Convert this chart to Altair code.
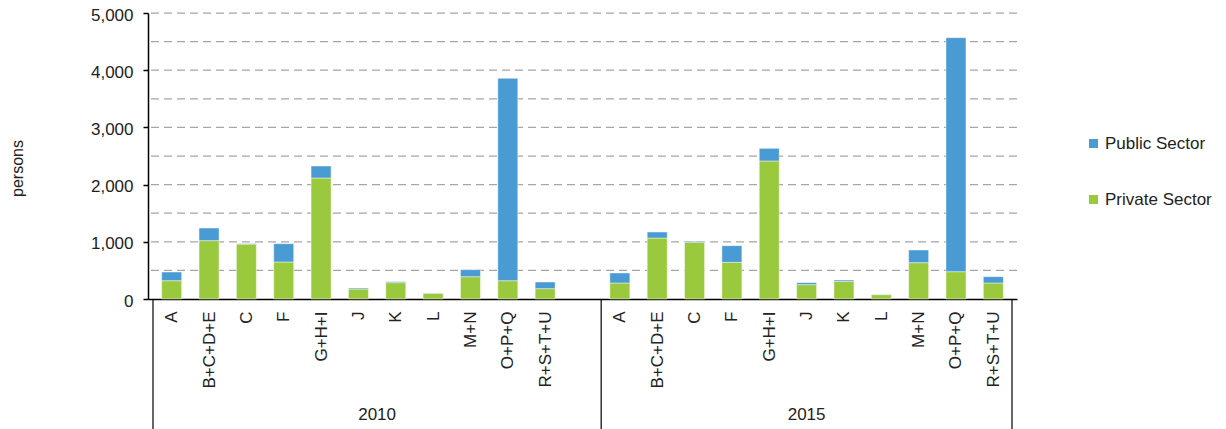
import json
import altair as alt
import pandas as pd

# ---- data ----
years = ["2010", "2015"]
cats_2010 = ["A", "B+C+D+E", "C", "F", "G+H+I", "J", "K", "L", "M+N", "O+P+Q", "R+S+T+U"]
cats_2015 = ["A", "B+C+D+E", "C", "F", "G+H+I", "J", "K", "L", "M+N", "O+P+Q", "R+S+T+U"]
private_2010 = [320, 1020, 960, 647, 2115, 175, 286, 99, 390, 320, 181]
public_2010 = [152, 221, 8, 320, 210, 17, 17, 6, 123, 3538, 116]
private_2015 = [280, 1066, 991, 641, 2413, 251, 309, 76, 635, 478, 280]
public_2015 = [175, 105, 17, 291, 221, 35, 23, 6, 222, 4091, 110]
sectors = ["Public Sector", "Private Sector"]
y_ticks = [0, 1000, 2000, 3000, 4000, 5000]
grid_vals = [500, 1000, 1500, 2000, 2500, 3000, 3500, 4000, 4500, 5000]

BLUE = "#4A9AD4"
GREEN = "#9BC93E"
FONT = "Liberation Sans"
TXT = "#222222"
FS = 17

# slots: 2010 group (with one trailing empty slot), then 2015 group
slot_labels = cats_2010 + [""] + cats_2015
start_2015 = len(cats_2010) + 1
n_slots = len(slot_labels)

rows = []
for i, c in enumerate(cats_2010):
    rows.append({"pos": i + 0.5, "cat": c, "sector": "Private Sector", "value": private_2010[i], "ord": 0})
    rows.append({"pos": i + 0.5, "cat": c, "sector": "Public Sector", "value": public_2010[i], "ord": 1})
for i, c in enumerate(cats_2015):
    rows.append({"pos": start_2015 + i + 0.5, "cat": c, "sector": "Private Sector", "value": private_2015[i], "ord": 0})
    rows.append({"pos": start_2015 + i + 0.5, "cat": c, "sector": "Public Sector", "value": public_2015[i], "ord": 1})
df = pd.DataFrame(rows)

label_positions = [i + 0.5 for i, l in enumerate(slot_labels) if l]
label_expr = json.dumps(slot_labels) + "[floor(datum.value)]"

bounds = [0, start_2015, n_slots]
div_df = pd.DataFrame({"pos": bounds})
year_df = pd.DataFrame({
    "pos": [(bounds[0] + bounds[1]) / 2, (bounds[1] + bounds[2]) / 2],
    "year": years,
})
grid_df = pd.DataFrame({"value": grid_vals})

xscale = alt.Scale(domain=[0, n_slots], nice=False, zero=False)
yscale = alt.Scale(domain=[0, 5000], nice=False)

y_axis = alt.Axis(
    values=y_ticks,
    format=",.0f",
    grid=False,
    tickSize=5,
    tickColor="black",
    tickWidth=1.5,
    domainColor="black",
    domainWidth=1.5,
    labelPadding=10,
    labelOffset=2,
    labelFontSize=FS,
    labelFont=FONT,
    labelColor=TXT,
    titleFont=FONT,
    titleFontSize=16,
    titleFontWeight="normal",
    titleColor=TXT,
    titleX=-131,
    titleY=155,
    titleAngle=-90,
    titleAlign="center",
    titleBaseline="middle",
)

grid = alt.Chart(grid_df).mark_rule(color="#a6a6a6", strokeWidth=1.25, strokeDash=[8, 5]).encode(
    y=alt.Y("value:Q", scale=yscale, title="persons", axis=y_axis)
)

bars = alt.Chart(df).mark_bar(size=20, stroke="white", strokeWidth=1, strokeOpacity=0.45).encode(
    x=alt.X(
        "pos:Q",
        scale=xscale,
        title=None,
        axis=alt.Axis(
            values=label_positions,
            labelExpr=label_expr,
            labelAngle=-90,
            labelAlign="right",
            labelBaseline="middle",
            labelPadding=12,
            labelFontSize=FS,
            labelFont=FONT,
            labelColor=TXT,
            labelOverlap=False,
            labelFlush=False,
            ticks=False,
            grid=False,
            domainColor="black",
            domainWidth=1.5,
        ),
    ),
    y=alt.Y("value:Q", stack="zero", scale=yscale, title="persons", axis=y_axis),
    color=alt.Color(
        "sector:N",
        scale=alt.Scale(domain=sectors, range=[BLUE, GREEN]),
        legend=alt.Legend(
            title=None,
            orient="none",
            legendX=937,
            legendY=122,
            symbolType="square",
            symbolSize=81,
            symbolStrokeWidth=0,
            labelFontSize=FS,
            labelFont=FONT,
            labelColor=TXT,
            labelOffset=3,
            rowPadding=38,
            padding=0,
        ),
    ),
    order=alt.Order("ord:Q"),
)

dividers = alt.Chart(div_df).mark_rule(color="black", strokeWidth=1.2).encode(
    x=alt.X("pos:Q", scale=xscale, title=None),
    y=alt.value(286),
    y2=alt.value(416),
)

year_text = alt.Chart(year_df).mark_text(fontSize=FS, font=FONT, color=TXT, baseline="middle").encode(
    x=alt.X("pos:Q", scale=xscale, title=None),
    y=alt.value(402),
    text="year:N",
)

chart = alt.layer(grid, bars, dividers, year_text).properties(
    width=869,
    height=286,
    autosize=alt.AutoSizeParams(type="none"),
    padding={"left": 140, "top": 5, "right": 201, "bottom": 130},
).configure_view(stroke=None)

chart.save("out.html", embed_options={"renderer": "svg", "actions": False})
